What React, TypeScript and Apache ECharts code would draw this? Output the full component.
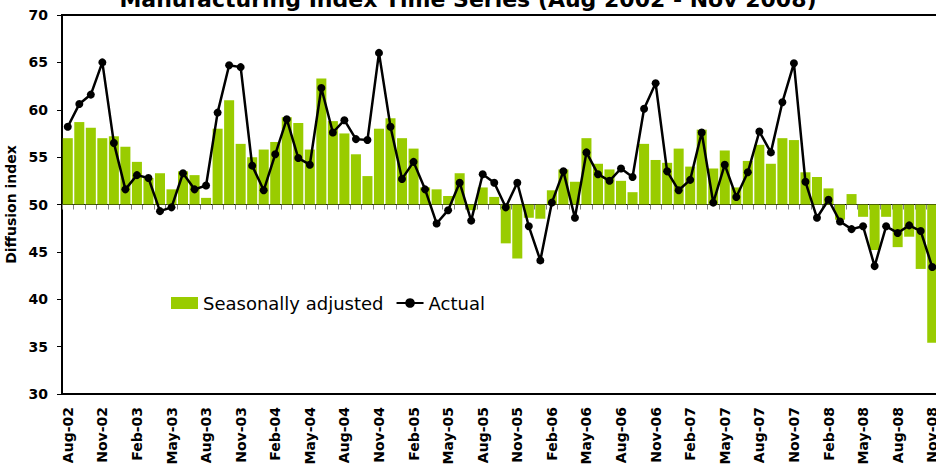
import React, { useEffect, useRef } from "react";
import * as echarts from "echarts";

const categories: string[] = [
  "Aug-02", "Sep-02", "Oct-02", "Nov-02", "Dec-02", "Jan-03", "Feb-03", "Mar-03", "Apr-03", "May-03", "Jun-03", "Jul-03",
  "Aug-03", "Sep-03", "Oct-03", "Nov-03", "Dec-03", "Jan-04", "Feb-04", "Mar-04", "Apr-04", "May-04", "Jun-04", "Jul-04",
  "Aug-04", "Sep-04", "Oct-04", "Nov-04", "Dec-04", "Jan-05", "Feb-05", "Mar-05", "Apr-05", "May-05", "Jun-05", "Jul-05",
  "Aug-05", "Sep-05", "Oct-05", "Nov-05", "Dec-05", "Jan-06", "Feb-06", "Mar-06", "Apr-06", "May-06", "Jun-06", "Jul-06",
  "Aug-06", "Sep-06", "Oct-06", "Nov-06", "Dec-06", "Jan-07", "Feb-07", "Mar-07", "Apr-07", "May-07", "Jun-07", "Jul-07",
  "Aug-07", "Sep-07", "Oct-07", "Nov-07", "Dec-07", "Jan-08", "Feb-08", "Mar-08", "Apr-08", "May-08", "Jun-08", "Jul-08",
  "Aug-08", "Sep-08", "Oct-08", "Nov-08",
];

const seasonallyAdjusted: number[] = [
  57.0, 58.7, 58.1, 57.0, 57.2, 56.1, 54.5, 52.8, 53.3, 51.6, 53.5, 53.1,
  50.7, 58.0, 61.0, 56.4, 55.0, 55.8, 56.6, 59.2, 58.6, 55.8, 63.3, 58.8,
  57.5, 55.3, 53.0, 58.0, 59.1, 57.0, 55.9, 51.8, 51.6, 50.9, 53.3, 49.4,
  51.8, 50.8, 45.9, 44.3, 48.6, 48.5, 51.5, 53.7, 52.4, 57.0, 54.3, 53.7,
  52.5, 51.3, 56.4, 54.7, 54.4, 55.9, 54.0, 57.9, 53.8, 55.7, 51.8, 54.6,
  56.3, 54.3, 57.0, 56.8, 53.4, 52.9, 51.7, 48.4, 51.1, 48.7, 45.2, 48.7,
  45.5, 46.6, 43.2, 35.4,
];

const actual: number[] = [
  58.2, 60.6, 61.6, 65.0, 56.5, 51.6, 53.1, 52.8, 49.3, 49.7, 53.3, 51.6,
  52.0, 59.7, 64.7, 64.5, 54.1, 51.5, 55.3, 59.0, 54.9, 54.2, 62.3, 57.6,
  58.9, 56.9, 56.8, 66.0, 58.2, 52.7, 54.5, 51.6, 48.0, 49.4, 52.3, 48.3,
  53.2, 52.3, 49.7, 52.3, 47.7, 44.1, 50.2, 53.5, 48.6, 55.5, 53.2, 52.5,
  53.8, 52.9, 60.1, 62.8, 53.5, 51.5, 52.6, 57.6, 50.2, 54.2, 50.8, 53.4,
  57.7, 55.5, 60.8, 64.9, 52.4, 48.6, 50.5, 48.2, 47.4, 47.7, 43.5, 47.7,
  47.0, 47.8, 47.2, 43.4,
];

const BASELINE = 50;
const Y_MIN = 30;
const Y_MAX = 70;
const Y_STEP = 5;

const FONT = "DejaVu Sans";

export default function App() {
  const ref = useRef<HTMLDivElement>(null);

  useEffect(() => {
    if (!ref.current) return;
    const chart = echarts.init(ref.current, undefined, { renderer: "svg" });
    const barData = seasonallyAdjusted.map((v) => +(v - BASELINE).toFixed(2));
    const lineData = actual.map((v) => +(v - BASELINE).toFixed(2));

    chart.setOption({
      animation: false,
      backgroundColor: "#ffffff",
      title: {
        text: "Manufacturing Index Time Series (Aug 2002 - Nov 2008)",
        left: "center",
        top: -12,
        padding: 0,
        textStyle: { fontFamily: FONT, fontWeight: "bold", fontSize: 22, color: "#000" },
      },
      legend: {
        left: 171,
        top: 294,
        padding: 0,
        itemWidth: 27,
        itemHeight: 12,
        itemGap: 12,
        textStyle: { fontFamily: FONT, fontSize: 18, color: "#000" },
        data: [
          { name: "Seasonally adjusted", icon: "rect" },
          { name: "Actual" },
        ],
      },
      grid: {
        left: 62,
        top: 15,
        width: 876,
        bottom: 76,
        outerBoundsMode: "none",
        containLabel: false,
        show: true,
        borderColor: "#000",
        borderWidth: 2,
        backgroundColor: "transparent",
      },
      xAxis: [
        {
          type: "category",
          data: categories,
          position: "bottom",
          axisLine: { onZero: false, lineStyle: { color: "#000", width: 2 } },
          axisTick: { show: false },
          axisLabel: {
            interval: 2,
            rotate: 90,
            margin: 13,
            fontFamily: FONT,
            fontWeight: "bold",
            fontSize: 14,
            color: "#000",
          },
          splitLine: { show: false },
        },
        {
          type: "category",
          data: categories,
          position: "bottom",
          axisLine: { onZero: true, lineStyle: { color: "#000", width: 1 } },
          axisTick: { show: true, interval: 0, length: 5, lineStyle: { color: "#808080", width: 1 } },
          axisLabel: { show: false },
          splitLine: { show: false },
        },
      ],
      yAxis: {
        type: "value",
        min: Y_MIN - BASELINE,
        max: Y_MAX - BASELINE,
        interval: Y_STEP,
        name: "Diffusion index",
        nameLocation: "middle",
        nameRotate: 90,
        nameGap: 28,
        nameTextStyle: { fontFamily: FONT, fontWeight: "bold", fontSize: 14, color: "#000" },
        axisLine: { show: true, onZero: false, lineStyle: { color: "#000", width: 2 } },
        axisTick: { show: true, length: 5, lineStyle: { color: "#000", width: 1 } },
        axisLabel: {
          margin: 14,
          fontFamily: FONT,
          fontWeight: "bold",
          fontSize: 14,
          color: "#000",
          formatter: (v: number) => String(v + BASELINE),
        },
        splitLine: { show: false },
      },
      series: [
        {
          name: "Seasonally adjusted",
          type: "bar",
          xAxisIndex: 0,
          data: barData,
          barCategoryGap: "13%",
          itemStyle: { color: "#99CC00" },
          z: 2,
        },
        {
          name: "Actual",
          type: "line",
          xAxisIndex: 0,
          data: lineData,
          symbol: "circle",
          symbolSize: 8,
          showAllSymbol: true,
          lineStyle: { color: "#000", width: 2.5 },
          itemStyle: { color: "#000" },
          z: 4,
        },
      ],
    });
    return () => chart.dispose();
  }, []);

  return (
    <div
      ref={ref}
      style={{ position: "absolute", left: 0, top: 0, width: 936, height: 470 }}
    />
  );
}
